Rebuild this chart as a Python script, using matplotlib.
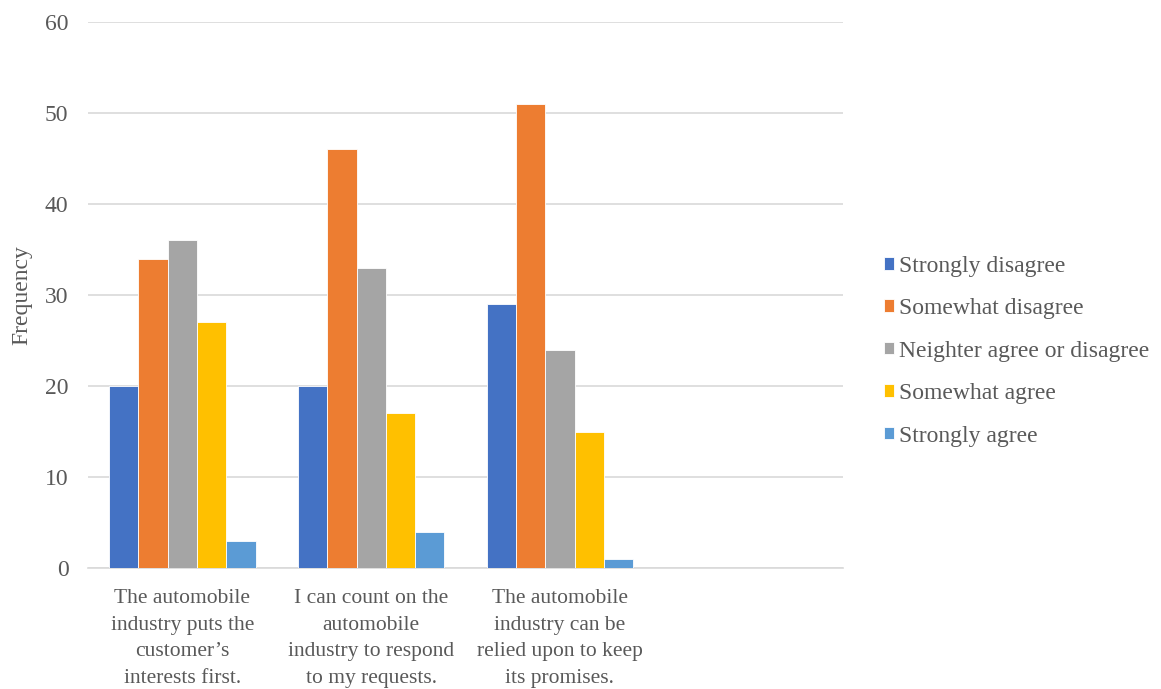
import matplotlib.pyplot as plt
import numpy as np

categories = [
    "The automobile\nindustry puts the\ncustomer\u2019s\ninterests first.",
    "I can count on the\nautomobile\nindustry to respond\nto my requests.",
    "The automobile\nindustry can be\nrelied upon to keep\nits promises.",
    "",
]
series_names = ["Strongly disagree", "Somewhat disagree",
                "Neighter agree or disagree", "Somewhat agree", "Strongly agree"]
strongly_disagree = [20, 20, 29, 0]
somewhat_disagree = [34, 46, 51, 0]
neither = [36, 33, 24, 0]
somewhat_agree = [27, 17, 15, 0]
strongly_agree = [3, 4, 1, 0]
y_ticks = [0, 10, 20, 30, 40, 50, 60]

colors = ["#4472C4", "#ED7D31", "#A5A5A5", "#FFC000", "#5B9BD5"]
series = [strongly_disagree, somewhat_disagree, neither, somewhat_agree, strongly_agree]

plt.rcParams['font.family'] = ['Liberation Serif', 'DejaVu Serif']
text_color = "#595959"

fig = plt.figure(figsize=(11.61, 6.89), dpi=100)
ax = fig.add_axes([0.0758, 0.1756, 0.6503, 0.7924])

x = np.arange(len(categories))
w = 0.155
for i, (vals, name, c) in enumerate(zip(series, series_names, colors)):
    ax.bar(x + (i - 2) * w, vals, width=w, color=c, label=name,
           edgecolor="white", linewidth=0.6, zorder=3)

ax.set_xlim(-0.5, len(categories) - 0.5)
ax.set_ylim(0, 60)
ax.set_yticks(y_ticks)
ax.set_xticks(x)
ax.set_xticklabels(categories, fontsize=15.5, color=text_color, linespacing=1.55)
ax.tick_params(axis='y', labelsize=17, labelcolor=text_color, length=0, pad=14)
ax.tick_params(axis='x', length=0, pad=15)
ax.grid(axis='y', color="#D9D9D9", linewidth=1.2, zorder=0)
for s in ['top', 'right', 'left']:
    ax.spines[s].set_visible(False)
ax.spines['bottom'].set_color("#D9D9D9")
ax.spines['bottom'].set_linewidth(1.2)

fig.text(22 / 1161, 1 - 295 / 689, "Frequency", rotation=90, fontsize=17,
         color=text_color, ha='center', va='center')

fig.legend(loc='center left', bbox_to_anchor=(0.743, 0.4905), frameon=False,
           fontsize=17, labelcolor=text_color, handlelength=0.45, handleheight=0.45,
           handletextpad=0.2, labelspacing=0.91)

fig.savefig("out.png", dpi=100)
